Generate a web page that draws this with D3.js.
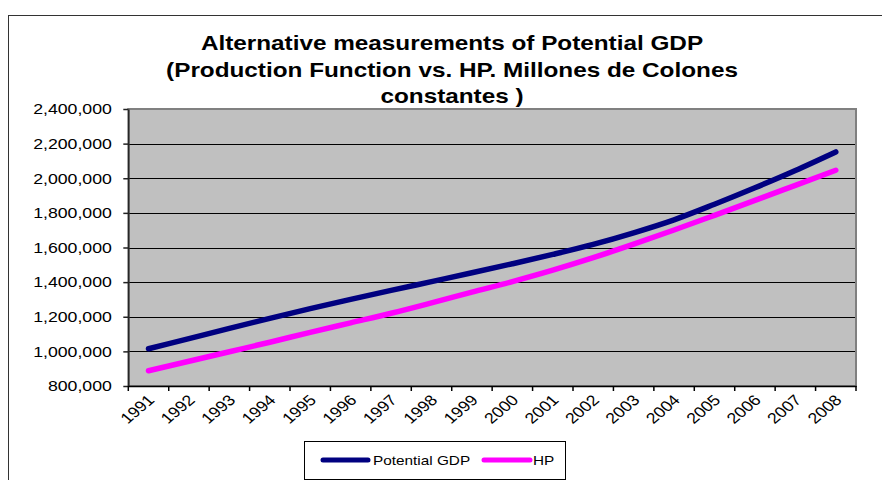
<!DOCTYPE html>
<html>
<head>
<meta charset="utf-8">
<script src="https://cdn.jsdelivr.net/npm/d3@7"></script>
<style>
  body { margin: 0; background: #fff; }
  svg { display: block; font-family: "Liberation Sans", Arial, sans-serif; }
</style>
</head>
<body>
<svg id="chart" width="882" height="480"></svg>
<script>
// Potential GDP estimates, millions of constant colones
const years = ["1991","1992","1993","1994","1995","1996","1997","1998","1999",
               "2000","2001","2002","2003","2004","2005","2006","2007","2008"];
const potentialGDP = [1015000, 1074000, 1133000, 1191000, 1247000, 1300000, 1352000, 1403000, 1454000,
                      1506000, 1560000, 1618000, 1685000, 1760000, 1850000, 1945000, 2045000, 2152000];
const hp = [888000, 943000, 998000, 1053000, 1110000, 1165000, 1220000, 1280000, 1342000,
            1403000, 1469000, 1541000, 1619000, 1701000, 1786000, 1872000, 1959000, 2046000];
const yTicks = [800000, 1000000, 1200000, 1400000, 1600000, 1800000, 2000000, 2200000, 2400000];
const titleLines = ["Alternative measurements of Potential GDP",
                    "(Production Function vs. HP. Millones de Colones",
                    "constantes )"];
const seriesNames = ["Potential GDP", "HP"];

// text in this chart is drawn slightly wide
const SX = 1.18;

const svg = d3.select("#chart");

// chart frame
svg.append("rect")
  .attr("x", 8.5).attr("y", 15.5)
  .attr("width", 900).attr("height", 500)
  .attr("fill", "#fff").attr("stroke", "#333").attr("stroke-width", 1);

const plot = { left: 128.3, right: 856, top: 109, bottom: 386 };

const x = d3.scaleBand().domain(years).range([plot.left, plot.right]).padding(0);
const y = d3.scaleLinear().domain([800000, 2400000]).range([plot.bottom, plot.top]);

// title
const title = svg.append("g").attr("font-weight", "bold").attr("font-size", 20.6).attr("fill", "#000");
title.selectAll("text").data(titleLines).join("text")
  .attr("text-anchor", "middle")
  .attr("transform", (d, i) => `translate(452,${50 + i * 26.5}) scale(${SX},1)`)
  .text(d => d);

// plot background
svg.append("rect")
  .attr("x", plot.left).attr("y", plot.top)
  .attr("width", plot.right - plot.left).attr("height", plot.bottom - plot.top)
  .attr("fill", "#C0C0C0");

// horizontal gridlines
svg.append("g").selectAll("line")
  .data(yTicks.slice(1, -1)).join("line")
  .attr("x1", plot.left).attr("x2", plot.right)
  .attr("y1", d => Math.round(y(d)) + 0.5).attr("y2", d => Math.round(y(d)) + 0.5)
  .attr("stroke", "#000").attr("stroke-width", 1);

// plot border
svg.append("rect")
  .attr("x", plot.left).attr("y", plot.top)
  .attr("width", plot.right - plot.left).attr("height", plot.bottom - plot.top)
  .attr("fill", "none").attr("stroke", "#808080").attr("stroke-width", 2);

// y axis
const yAxis = svg.append("g")
  .attr("transform", `translate(${plot.left},0)`)
  .call(d3.axisLeft(y).tickValues(yTicks).tickFormat(d3.format(",")).tickSize(5).tickSizeOuter(0));
yAxis.select(".domain").attr("stroke", "#222").attr("stroke-width", 1.5);
yAxis.selectAll(".tick line").attr("stroke", "#222").attr("stroke-width", 1.5);
yAxis.selectAll(".tick text")
  .attr("font-size", 15).attr("fill", "#000")
  .attr("x", -16.5 / SX)
  .attr("transform", `scale(${SX},1)`);
yAxis.attr("font-family", null);

// x axis with category labels
const xAxis = svg.append("g")
  .attr("transform", `translate(0,${plot.bottom})`)
  .call(d3.axisBottom(x).tickSize(0).tickSizeOuter(0));
xAxis.select(".domain").attr("stroke", "#000").attr("stroke-width", 1.5);
xAxis.selectAll(".tick text")
  .attr("font-size", 15).attr("fill", "#000")
  .attr("y", 0).attr("dy", 0)
  .attr("text-anchor", "end")
  .attr("transform", `translate(7,15) scale(${SX},1) rotate(-45)`);
xAxis.attr("font-family", null);

// tick marks at category boundaries
const bounds = years.map(d => x(d)).concat([x.range()[1]]);
svg.append("g").selectAll("line").data(bounds).join("line")
  .attr("x1", d => d).attr("x2", d => d)
  .attr("y1", plot.bottom).attr("y2", plot.bottom + 5)
  .attr("stroke", "#000").attr("stroke-width", 1.5);

// series lines
const colors = ["#000080", "#FF00FF"];
const line = d3.line()
  .x((d, i) => x(years[i]) + x.bandwidth() / 2)
  .y(d => y(d))
  .curve(d3.curveMonotoneX);

[potentialGDP, hp].forEach((vals, k) => {
  svg.append("path")
    .datum(vals)
    .attr("d", line)
    .attr("fill", "none")
    .attr("stroke", colors[k])
    .attr("stroke-width", 5.5)
    .attr("stroke-linecap", "round")
    .attr("stroke-linejoin", "round");
});

// legend
const legend = svg.append("g");
legend.append("rect")
  .attr("x", 304.5).attr("y", 441.5).attr("width", 261).attr("height", 38)
  .attr("fill", "#fff").attr("stroke", "#000").attr("stroke-width", 1);
const legendItems = [
  { x1: 323, x2: 368, tx: 373 },
  { x1: 484, x2: 530, tx: 533 }
];
legendItems.forEach((it, k) => {
  legend.append("line")
    .attr("x1", it.x1).attr("x2", it.x2).attr("y1", 460).attr("y2", 460)
    .attr("stroke", colors[k]).attr("stroke-width", 5).attr("stroke-linecap", "round");
  legend.append("text")
    .attr("transform", `translate(${it.tx},465) scale(${SX},1)`)
    .attr("font-size", 13).attr("fill", "#000")
    .text(seriesNames[k]);
});
</script>
</body>
</html>
